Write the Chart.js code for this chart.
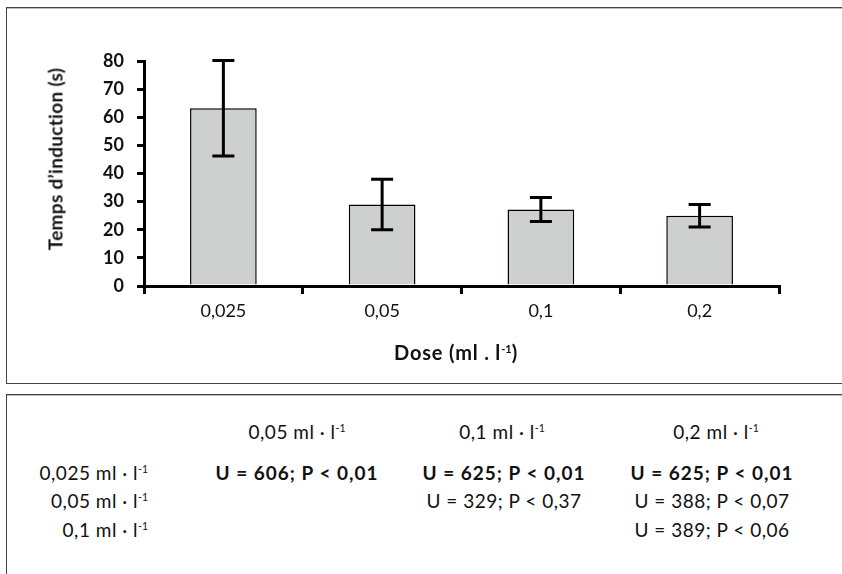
<!DOCTYPE html>
<html>
<head>
<meta charset="utf-8">
<script src="https://cdn.jsdelivr.net/npm/chart.js@4.4.1/dist/chart.umd.min.js"></script>
<style>
  html, body { margin: 0; padding: 0; background: #fff; width: 842px; height: 574px; overflow: hidden; font-family: Lato, "Open Sans", sans-serif; color: #111; }
  .box { position: absolute; border: 1px solid #444; box-shadow: inset 0 1px 0 #bbb; box-sizing: border-box; }
  #c { position: absolute; left: 0; top: 0; }
  .t { position: absolute; white-space: nowrap; line-height: 1; }
  .c { transform: translate(-50%, -50%); }
  .r { transform: translate(-100%, -50%); }
  sup { font-size: 55%; vertical-align: 0.6em; line-height: 0; letter-spacing: 0; }
  .b { font-weight: 700; }
  .tab { font-size: 19px; letter-spacing: 0.5px; }
  .tab.b { letter-spacing: 1px; }
</style>
</head>
<body>
<div class="box" style="left:6px; top:7px; width:900px; height:377px;"></div>
<div class="box" style="left:6px; top:394px; width:900px; height:300px;"></div>
<canvas id="c" width="842" height="390"></canvas>
<div id="ytitle" class="t b" style="left:55px; top:159px; font-size:19px; letter-spacing:0.3px; transform: translate(-50%,-50%) rotate(-90deg);">Temps d’induction (s)</div>
<div id="xtitle" class="t b c" style="left:456px; top:352px; font-size:20px; letter-spacing:0.8px;">Dose (ml . l<sup>-1</sup>)</div>
<div id="table"></div>
<script>
// ---- chart data ----
const categories = ['0,025', '0,05', '0,1', '0,2'];
const means = [63.2, 29.0, 27.2, 25.0];
const errors = [17.0, 9.0, 4.3, 4.0];
const yMin = 0, yMax = 80, yStep = 10;

// ---- table data ----
const colHeaders = ['0,05', '0,1', '0,2'];
const rowHeaders = ['0,025', '0,05', '0,1'];
const cellU = [[606, 625, 625], [null, 329, 388], [null, null, 389]];
const cellP = [['0,01', '0,01', '0,01'], [null, '0,37', '0,07'], [null, null, '0,06']];
const cellBold = [[true, true, true], [false, false, false], [false, false, false]];

// ---- build table ----
(function () {
  const colX = [297, 504, 712];
  const headerX = [297, 502, 716];
  const headerY = 431;
  const rowY = [472, 500, 529];
  const rowRight = 148;
  let html = '';
  colHeaders.forEach((h, j) => {
    html += `<div class="t c tab" style="left:${headerX[j]}px;top:${headerY}px">${h} ml · l<sup>-1</sup></div>`;
  });
  rowHeaders.forEach((h, i) => {
    html += `<div class="t r tab" style="left:${rowRight}px;top:${rowY[i]}px">${h} ml · l<sup>-1</sup></div>`;
    cellU[i].forEach((u, j) => {
      if (u === null) return;
      html += `<div class="t c tab${cellBold[i][j] ? ' b' : ''}" style="left:${colX[j]}px;top:${rowY[i]}px">U = ${u}; P &lt; ${cellP[i][j]}</div>`;
    });
  });
  document.getElementById('table').innerHTML = html;
})();

// ---- error bars plugin ----
const errorBars = {
  id: 'errorBars',
  afterDatasetsDraw(chart) {
    const ctx = chart.ctx;
    const y = chart.scales.y;
    const meta = chart.getDatasetMeta(0);
    ctx.save();
    ctx.strokeStyle = '#000';
    ctx.lineWidth = 3;
    meta.data.forEach((el, i) => {
      const x = el.x;
      const top = y.getPixelForValue(means[i] + errors[i]);
      const bot = y.getPixelForValue(means[i] - errors[i]);
      const hw = 11;
      ctx.beginPath();
      ctx.moveTo(x, top); ctx.lineTo(x, bot);
      ctx.moveTo(x - hw, top); ctx.lineTo(x + hw, top);
      ctx.moveTo(x - hw, bot); ctx.lineTo(x + hw, bot);
      ctx.stroke();
    });
    ctx.restore();
  }
};

new Chart(document.getElementById('c'), {
  type: 'bar',
  data: {
    labels: categories,
    datasets: [{
      data: means,
      backgroundColor: '#cdd0ce',
      borderColor: '#000',
      borderWidth: 1.5,
      borderSkipped: 'bottom',
      barPercentage: 0.42,
      categoryPercentage: 1.0
    }]
  },
  options: {
    responsive: false,
    animation: false,
    events: [],
    layout: { padding: { left: 0, top: 61, right: 63, bottom: 64 } },
    plugins: { legend: { display: false }, tooltip: { enabled: false }, title: { display: false } },
    scales: {
      x: {
        grid: { display: true, drawOnChartArea: false, drawTicks: true, tickLength: 8, color: '#000', lineWidth: 3, offset: true },
        border: { display: true, color: '#000', width: 3 },
        ticks: { color: '#111', font: { family: 'Lato', size: 18 }, padding: 6, maxRotation: 0 },
        afterFit(scale) { scale.height = 40; }
      },
      y: {
        min: yMin, max: yMax,
        grid: { display: true, drawOnChartArea: false, drawTicks: true, tickLength: 7, color: '#000', lineWidth: 3 },
        border: { display: true, color: '#000', width: 3 },
        ticks: { stepSize: yStep, color: '#111', font: { family: 'Lato', size: 18, weight: 'bold' }, padding: 13 },
        afterFit(scale) { scale.width = 144; }
      }
    }
  },
  plugins: [errorBars]
});
</script>
</body>
</html>
